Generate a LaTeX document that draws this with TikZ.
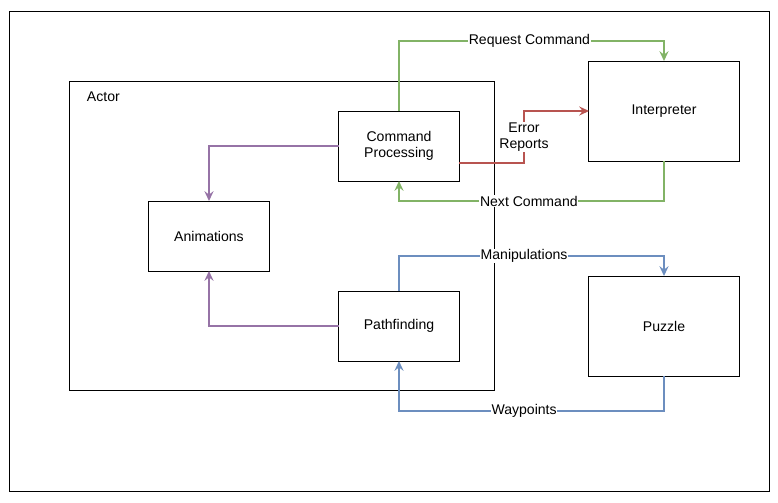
\documentclass[tikz,border=0pt]{standalone}
\usepackage{fontspec}
\setmainfont{Liberation Sans}
\usetikzlibrary{positioning,arrows.meta}
\definecolor{linkgreen}{HTML}{82B366}
\definecolor{linkred}{HTML}{B85450}
\definecolor{linkpurple}{HTML}{9673A6}
\definecolor{linkblue}{HTML}{6C8EBF}

\begin{document}
\begin{tikzpicture}[x=0.025cm,y=-0.025cm,
    font=\fontsize{10}{11.5}\selectfont,
    block/.style={draw, line width=0.7pt, fill=white, inner sep=0pt, outer sep=0pt,
      minimum width=3cm, minimum height=1.75cm, align=center},
    bigblock/.style={block, minimum width=3.75cm, minimum height=2.5cm},
    link/.style={-{Stealth[length=7pt,width=6.5pt,inset=2.5pt]}, line width=1.4pt},
    lbl/.style={fill=white, inner sep=0.5pt, align=center, text=black}]
    \useasboundingbox (0,0) rectangle (778,502);
    \fill[white] (0,0) rectangle (778,502);
    \draw[line width=0.7pt] (9,11) rectangle (769,491);
    \draw[line width=0.7pt] (69,81) rectangle (494,390);
    \node[anchor=west] at (82,97) (actor) {Actor};

    \node[block] at (399,146) (command) {Command\\Processing};
    \node[block] at (209,236) (animations) {Animations};
    \node[block] at (399,326) (pathfinding) {Pathfinding};
    \node[bigblock] at (664,111) (interpreter) {Interpreter};
    \node[bigblock] at (664,326) (puzzle) {Puzzle};

    % command <-> interpreter
    \draw [link, linkgreen] (command.north) -- ++(0,-70) -| node[lbl,pos=0.246] {Request Command} (interpreter.north);
    \draw [link, linkred] ([yshift=-0.425cm]command.east) -- ++(65,0) |- node[lbl,pos=0.25] {Error\\Reports} (interpreter.west);
    \draw [link, linkgreen] (interpreter.south) -- ++(0,40) -| node[lbl,pos=0.255] {Next Command} (command.south);
    % animations
    \draw [link, linkpurple] (command.west) -| (animations.north);
    \draw [link, linkpurple] (pathfinding.west) -| (animations.south);
    % pathfinding <-> puzzle
    \draw [link, linkblue] (pathfinding.north) -- ++(0,-35) -| node[lbl,pos=0.236] {Manipulations} (puzzle.north);
    \draw [link, linkblue] (puzzle.south) -- ++(0,35) -| node[lbl,pos=0.264] {Waypoints} (pathfinding.south);
\end{tikzpicture}
\end{document}
